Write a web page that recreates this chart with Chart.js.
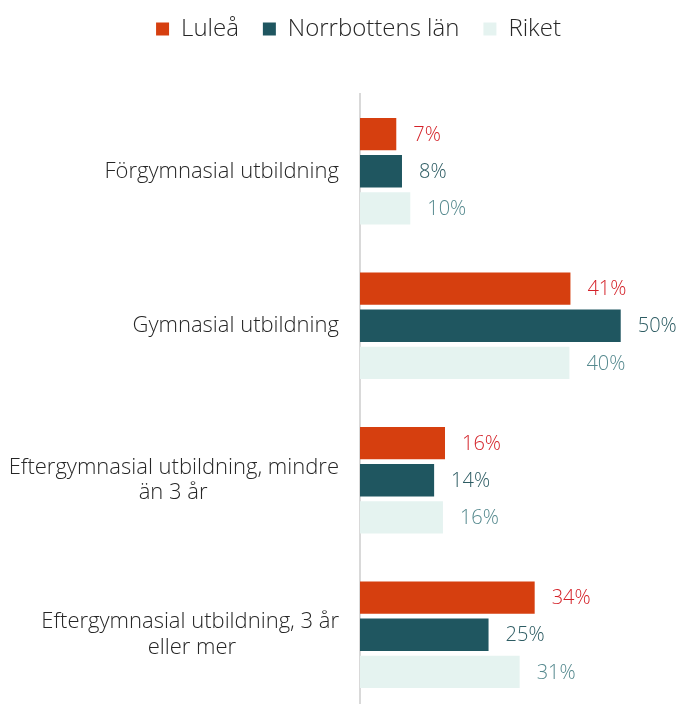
<!DOCTYPE html>
<html><head><meta charset="utf-8">
<script src="https://cdn.jsdelivr.net/npm/chart.js@4"></script>
<style>html,body{margin:0;padding:0;background:#fff;overflow:hidden}#wrap{width:680px;height:712px;position:relative}</style>
</head><body><div id="wrap"><canvas id="c"></canvas></div>
<script>
const categories = [["Förgymnasial utbildning"],["Gymnasial utbildning"],["Eftergymnasial utbildning, mindre","än 3 år"],["Eftergymnasial utbildning, 3 år","eller mer"]];
const seriesNames = ["Luleå","Norrbottens län","Riket"];
const lulea = [7.0, 40.6, 16.4, 33.7];
const norrbotten = [8.1, 50.3, 14.3, 24.8];
const riket = [9.7, 40.4, 16.0, 30.8];
const barColors = ['#d63f0f','#1f5660','#e5f3f0'];
const labelColors = ['#d42229','#2d5c63','#55898e'];

const FAMILY = '"Open Sans", Lato, sans-serif';
const TICK_SIZE = 22, TICK_WEIGHT = 300;
const tickFontStr = TICK_WEIGHT + ' ' + TICK_SIZE + 'px ' + FAMILY;
const valueFontStr = '300 20px ' + FAMILY;

function centerLines(lines){
  if (lines.length < 2) return lines[0];
  const m = document.createElement('canvas').getContext('2d');
  m.font = tickFontStr;
  const w = lines.map(l => m.measureText(l).width);
  const maxW = Math.max(...w);
  const sp = m.measureText(' ').width;
  return lines.map((l,k) => l + ' '.repeat(Math.round((maxW - w[k]) / 2 / sp)));
}
const tickLabels = categories.map(centerLines);

const valueLabels = {
  id: 'valueLabels',
  afterDatasetsDraw(chart){
    const ctx = chart.ctx;
    chart.data.datasets.forEach((ds,i) => {
      chart.getDatasetMeta(i).data.forEach((bar,j) => {
        ctx.save();
        ctx.font = valueFontStr;
        ctx.fillStyle = labelColors[i];
        ctx.textAlign = 'left';
        ctx.textBaseline = 'middle';
        ctx.fillText(Math.round(ds.data[j]) + '%', bar.x + 17, bar.y + 1);
        ctx.restore();
      });
    });
  }
};
const legendTweak = {
  id: 'legendTweak',
  beforeInit(chart){
    const lg = chart.legend;
    const origFit = lg.fit;
    lg.fit = function(){ origFit.call(this); this.height += 34; };
    const origDraw = lg.draw;
    lg.draw = function(){ const c = this.ctx; c.save(); c.translate(23, -9); origDraw.call(this); c.restore(); };
  }
};

new Chart(document.getElementById('c'), {
  type: 'bar',
  data: {
    labels: tickLabels,
    datasets: [
      {label: seriesNames[0], data: lulea, backgroundColor: barColors[0]},
      {label: seriesNames[1], data: norrbotten, backgroundColor: barColors[1]},
      {label: seriesNames[2], data: riket, backgroundColor: barColors[2]}
    ]
  },
  options: {
    indexAxis: 'y',
    responsive: true,
    maintainAspectRatio: false,
    animation: false,
    categoryPercentage: 0.722,
    barPercentage: 0.868,
    layout: {padding: {top: 2, right: 9, bottom: 0, left: 0}},
    plugins: {
      legend: {
        position: 'top',
        labels: {
          boxWidth: 13, boxHeight: 13, padding: 24,
          color: '#262626',
          font: {family: FAMILY, size: 24, weight: 300}
        }
      },
      tooltip: {enabled: false}
    },
    scales: {
      x: {min: 0, max: 60, display: false},
      y: {
        grid: {display: false, drawTicks: false, tickLength: 0},
        border: {display: true, color: '#d9d9d9', width: 2},
        ticks: {
          padding: 21,
          color: '#262626',
          font: {family: FAMILY, size: TICK_SIZE, weight: TICK_WEIGHT, lineHeight: 1.16}
        },
        afterFit(scale){ scale.width = 360; scale.paddingTop = 0; scale.paddingBottom = 0; }
      }
    }
  },
  plugins: [valueLabels, legendTweak]
});
</script></body></html>
